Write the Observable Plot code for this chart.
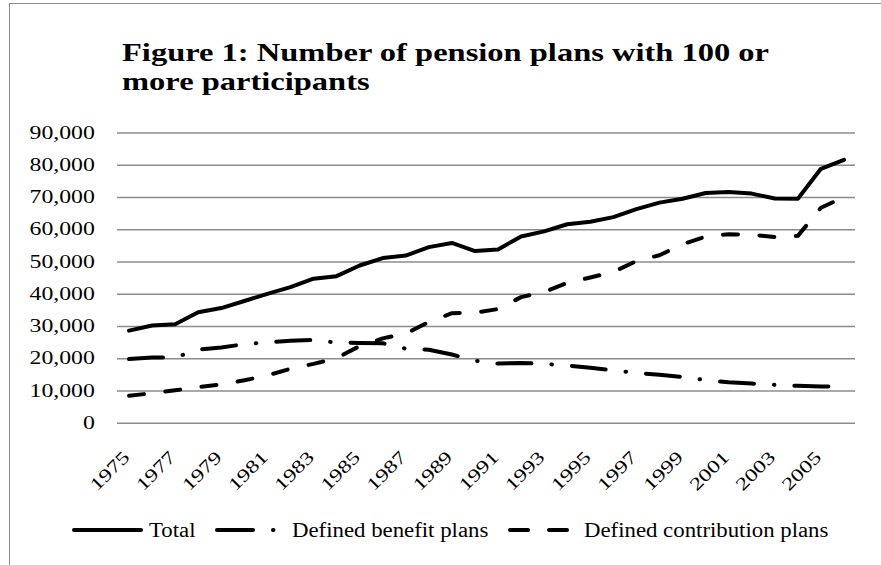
<!DOCTYPE html>
<html><head><meta charset="utf-8">
<script src="https://cdn.jsdelivr.net/npm/d3@7"></script>
<script src="https://cdn.jsdelivr.net/npm/@observablehq/plot@0.6"></script>
<style>
html,body{margin:0;padding:0;background:#fff;overflow:hidden}
#wrap{position:relative;width:881px;height:565px;overflow:hidden;font-family:"Liberation Serif","Times New Roman",serif;background:#fff}
#frame{position:absolute;left:9px;top:2.5px;width:1000px;height:1000px;border-left:1.5px solid #8a8a8a;border-top:1.5px solid #8a8a8a;pointer-events:none}
#title{height:110px;box-sizing:border-box;padding:38.4px 0 0 122px;margin:0;font-size:26px;line-height:29px;font-weight:bold;color:#000}
#title span{display:block;transform:scaleX(1.25);transform-origin:left center;white-space:nowrap}
#chart svg, #legend svg{display:block}
</style></head>
<body><div id="wrap"><div id="frame"></div>
<h1 id="title"><span>Figure 1: Number of pension plans with 100 or</span><span>more participants</span></h1>
<div id="chart"></div><div id="legend"></div></div>
<script>
const years = [1975,1976,1977,1978,1979,1980,1981,1982,1983,1984,1985,1986,1987,1988,1989,1990,1991,1992,1993,1994,1995,1996,1997,1998,1999,2000,2001,2002,2003,2004,2005,2006];
const total = [28700,30300,30700,34400,35700,37900,40100,42200,44800,45600,48900,51200,52000,54600,55900,53400,53900,57900,59500,61700,62500,63900,66400,68400,69600,71400,71700,71200,69700,69600,78900,81700];
const definedBenefit = [19900,20400,20400,22800,23500,24500,25100,25600,25800,25000,24900,24800,23100,22800,21300,19400,18500,18700,18400,17900,17200,16400,15600,15000,14300,13400,12700,12300,11900,11600,11400,11300];
const definedContribution = [8500,9300,10200,11200,12000,13300,14800,16900,18400,20200,23900,26300,27800,31400,34100,34300,35400,39100,40700,43500,45200,46900,50300,52100,55500,57900,58600,58500,57700,58100,66800,70100];
const yTicks = [0,10000,20000,30000,40000,50000,60000,70000,80000,90000];
const xTicks = [1975,1977,1979,1981,1983,1985,1987,1989,1991,1993,1995,1997,1999,2001,2003,2005];
const seriesNames = ["Total","Defined benefit plans","Defined contribution plans"];

const dashDB = "34,20,0.5,20";
const dashDC = "15,21.5";

const chart = Plot.plot({
  width: 881, height: 380,
  marginLeft: 117, marginRight: 26, marginTop: 22.5, marginBottom: 67.3,
  style: {fontFamily: "'Liberation Serif', serif", fontSize: "18px", background: "white", color: "black", overflow: "visible"},
  x: {type: "linear", domain: [1974.5, 2006.5]},
  y: {domain: [0, 90000]},
  marks: [
    Plot.ruleY(yTicks, {stroke: "#8c8c8c", strokeWidth: 1.5}),
    Plot.axisY({ticks: yTicks, tickSize: 0, tickPadding: 22.7, tickFormat: d3.format(","), fontSize: 18, label: null}),
    Plot.axisX({ticks: xTicks, tickSize: 0, tickPadding: 0, tickRotate: -45, tickFormat: d => String(d), fontSize: 18, label: null, textAnchor: "end", lineAnchor: "middle", dx: -2.5, dy: 31}),
    Plot.line(years, {x: years, y: total, stroke: "black", strokeWidth: 4, strokeLinejoin: "round", strokeLinecap: "round"}),
    Plot.line(years, {x: years, y: definedBenefit, stroke: "black", strokeWidth: 4, strokeLinejoin: "round", strokeLinecap: "round", strokeDasharray: dashDB}),
    Plot.line(years, {x: years, y: definedContribution, stroke: "black", strokeWidth: 4, strokeLinejoin: "round", strokeLinecap: "round", strokeDasharray: dashDC})
  ]
});
document.getElementById("chart").appendChild(chart);
chart.querySelectorAll('g[aria-label="y-axis tick label"] text, g[aria-label="x-axis tick label"] text').forEach(t => {
  const L = t.getComputedTextLength();
  t.setAttribute("textLength", (L * 1.32).toFixed(1));
  t.setAttribute("lengthAdjust", "spacingAndGlyphs");
});

// legend
const lg = d3.create("svg").attr("width", 881).attr("height", 75)
  .attr("font-family", "'Liberation Serif', serif").attr("font-size", 20);
const cy = 40;
const items = [
  {name: seriesNames[0], x1: 74, x2: 141, dash: null, tx: 149},
  {name: seriesNames[1], x1: 217, x2: 284, dash: "36,20,0.5,40", tx: 292},
  {name: seriesNames[2], x1: 510, x2: 567, dash: "18,21", tx: 584}
];
items.forEach(it => {
  const l = lg.append("line").attr("x1", it.x1).attr("x2", it.x2).attr("y1", cy).attr("y2", cy)
    .attr("stroke", "black").attr("stroke-width", 4).attr("stroke-linecap", "round");
  if (it.dash) l.attr("stroke-dasharray", it.dash);
  lg.append("text").attr("x", it.tx).attr("y", cy + 6.7).attr("fill", "black").text(it.name);
});
document.getElementById("legend").appendChild(lg.node());
lg.selectAll("text").each(function() {
  const L = this.getComputedTextLength();
  this.setAttribute("textLength", (L * 1.14).toFixed(1));
  this.setAttribute("lengthAdjust", "spacingAndGlyphs");
});
</script>
</body></html>
